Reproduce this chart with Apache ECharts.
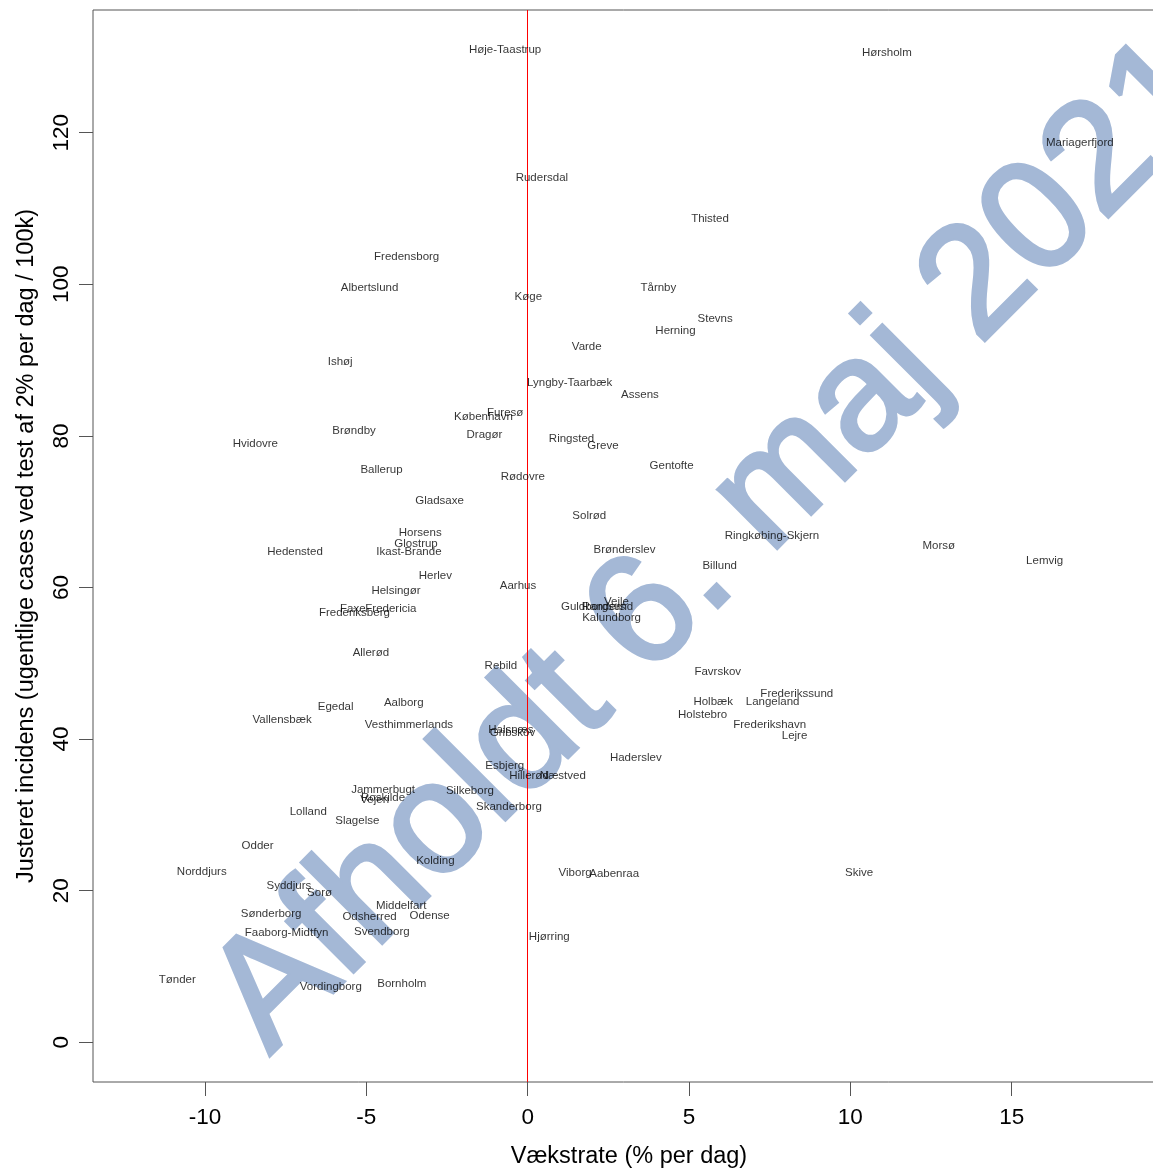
<!DOCTYPE html>
<html><head><meta charset="utf-8">
<script src="https://cdn.jsdelivr.net/npm/echarts@6/dist/echarts.min.js"></script>
<style>html,body{margin:0;padding:0;background:#fff}#c{width:1153px;height:1168px}</style>
</head><body><div id="c"></div>
<script>
const names = ['Høje-Taastrup','Hørsholm','Mariagerfjord','Rudersdal','Thisted','Fredensborg','Albertslund','Køge','Tårnby','Stevns',
'Herning','Varde','Ishøj','Lyngby-Taarbæk','Assens','Furesø','København','Dragør','Brøndby','Hvidovre',
'Ringsted','Greve','Gentofte','Ballerup','Rødovre','Gladsaxe','Solrød','Horsens','Glostrup','Ikast-Brande',
'Hedensted','Ringkøbing-Skjern','Morsø','Lemvig','Brønderslev','Billund','Herlev','Aarhus','Helsingør','Faxe',
'Fredericia','Frederiksberg','Guldborgsund','Randers','Vejle','Kalundborg','Allerød','Rebild','Favrskov','Frederikssund',
'Holbæk','Langeland','Holstebro','Frederikshavn','Lejre','Aalborg','Egedal','Vallensbæk','Vesthimmerlands','Halsnæs',
'Gribskov','Haderslev','Esbjerg','Hillerød','Næstved','Jammerbugt','Roskilde','Vejen','Silkeborg','Skanderborg',
'Lolland','Slagelse','Odder','Kolding','Norddjurs','Viborg','Aabenraa','Skive','Syddjurs','Sorø',
'Sønderborg','Middelfart','Odsherred','Odense','Faaborg-Midtfyn','Svendborg','Hjørring','Tønder','Vordingborg','Bornholm'];
const growth = [-0.70,11.13,17.11,0.44,5.65,-3.75,-4.90,0.02,4.05,5.81,
4.58,1.83,-5.81,1.30,3.48,-0.70,-1.37,-1.34,-5.38,-8.44,
1.36,2.33,4.46,-4.53,-0.15,-2.73,1.91,-3.33,-3.46,-3.68,
-7.21,7.57,12.74,16.02,3.00,5.95,-2.86,-0.30,-4.08,-5.42,
-4.24,-5.37,2.15,2.35,2.75,2.60,-4.86,-0.83,5.89,8.34,
5.75,7.59,5.42,7.50,8.27,-3.84,-5.95,-7.61,-3.68,-0.52,
-0.47,3.35,-0.71,0.04,1.09,-4.48,-4.48,-4.74,-1.79,-0.58,
-6.80,-5.28,-8.37,-2.86,-10.10,1.47,2.68,10.27,-7.40,-6.45,
-7.95,-3.92,-4.90,-3.04,-7.47,-4.52,0.67,-10.86,-6.10,-3.90];
const incidence = [130.9,130.5,118.6,114.1,108.7,103.6,99.5,98.3,99.5,95.4,
93.9,91.7,89.8,87.0,85.4,83.0,82.5,80.2,80.7,78.9,
79.6,78.7,76.1,75.5,74.6,71.4,69.5,67.2,65.7,64.7,
64.7,66.8,65.5,63.5,65.0,62.8,61.6,60.2,59.6,57.2,
57.2,56.7,57.4,57.4,58.1,56.0,51.4,49.6,48.9,46.0,
44.9,44.9,43.2,41.9,40.4,44.8,44.2,42.6,41.9,41.2,
40.8,37.5,36.5,35.1,35.1,33.3,32.3,32.0,33.2,31.1,
30.4,29.2,25.9,23.9,22.5,22.4,22.2,22.4,20.7,19.7,
17.0,18.0,16.6,16.7,14.4,14.6,13.9,8.2,7.3,7.7];
const xTicks = [-10,-5,0,5,10,15];
const yTicks = [0,20,40,60,80,100,120];
const xTitle = 'Vækstrate (% per dag)';
const yTitle = 'Justeret incidens (ugentlige cases ved test af 2% per dag / 100k)';
const watermark = 'Afholdt 6. maj 2021';

const FONT = "'Liberation Sans', Arial, Helvetica, sans-serif";
const points = names.map((n, i) => ({ name: n, value: [growth[i], incidence[i]] }));

const chart = echarts.init(document.getElementById('c'), null, { renderer: 'canvas' });
const F = 157, ang = Math.PI / 4;
const ox = 277.5, oy = 1063.3;
const mid = 0.3465 * F;
const wx = ox - mid * Math.sin(ang), wy = oy - mid * Math.cos(ang);

chart.setOption({
  animation: false,
  backgroundColor: '#fff',
  grid: { left: 93, top: 10, bottom: 86, right: -2, show: true, borderColor: '#555', borderWidth: 1,
          backgroundColor: 'transparent', containLabel: false, outerBoundsMode: 'none' },
  xAxis: {
    type: 'value', min: -13.47, max: 19.44,
    name: xTitle, nameLocation: 'middle', nameGap: 63,
    nameTextStyle: { fontFamily: FONT, fontSize: 23.5, color: '#000', padding: [0, 0, 0, 10] },
    axisLine: { show: false, onZero: false },
    splitLine: { show: false },
    axisTick: { show: true, length: 14, inside: false, customValues: xTicks, lineStyle: { color: '#555' } },
    axisLabel: { customValues: xTicks, fontFamily: FONT, fontSize: 22.5, color: '#000', margin: 24 }
  },
  yAxis: {
    type: 'value', min: -5.24, max: 136.19,
    name: yTitle, nameLocation: 'middle', nameGap: 54,
    nameTextStyle: { fontFamily: FONT, fontSize: 23.5, color: '#000' },
    axisLine: { show: false, onZero: false },
    splitLine: { show: false },
    axisTick: { show: true, length: 14, inside: false, customValues: yTicks, lineStyle: { color: '#555' } },
    axisLabel: { customValues: yTicks, fontFamily: FONT, fontSize: 22.5, color: '#000', margin: 20, rotate: 90 }
  },
  graphic: [{
    type: 'text', x: wx, y: wy, rotation: ang, z: -10, silent: true,
    style: {
      text: watermark, font: F + "px 'Liberation Sans', Arial, sans-serif",
      fill: '#a4b8d6', stroke: '#a4b8d6', lineWidth: 4,
      align: 'left', verticalAlign: 'middle', textAlign: 'left', textVerticalAlign: 'middle'
    }
  }],
  series: [{
    type: 'scatter', data: points, symbolSize: 0, z: 5,
    itemStyle: { color: 'transparent' },
    label: {
      show: true, position: 'inside', formatter: '{b}',
      fontFamily: FONT, fontSize: 11.5, color: '#000', align: 'center', verticalAlign: 'middle'
    },
    labelLayout: { hideOverlap: false },
    markLine: {
      silent: true, symbol: ['none', 'none'], label: { show: false },
      lineStyle: { color: '#ff0000', width: 1, type: 'solid' },
      data: [{ xAxis: 0 }]
    }
  }]
});
</script>
</body></html>
